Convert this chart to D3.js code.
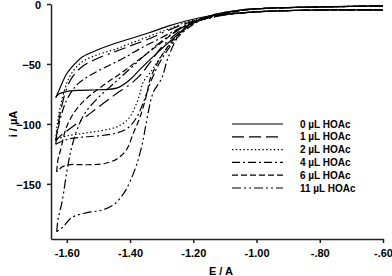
<!DOCTYPE html>
<html lang="en">
<head>
    <meta charset="UTF-8">
    <title>CV HOAc</title>
    <script src="https://d3js.org/d3.v7.min.js"></script>
    <style>
        body { margin: 0; background: #fff; }
        text { font-family: "Liberation Sans", Arial, sans-serif; font-weight: bold; fill: #000; }
        .axis path, .axis line { stroke: #222; }
        .axis text { font-size: 11px; }
        .curve { fill: none; stroke: #000; stroke-width: 1.2; }
    </style>
</head>
<body>
<script>
    const width = 392, height = 276;
    const plotLeft = 51, plotRight = 383, plotTop = 4, plotBottom = 239;

    const xTicks = [-1.60, -1.40, -1.20, -1.00, -0.80, -0.60];
    const xTickLabels = ["-1.60", "-1.40", "-1.20", "-1.00", "-.80", "-.60"];
    const yTicks = [0, -50, -100, -150];

    const series = ["0 \u00b5L HOAc", "1 \u00b5L HOAc", "2 \u00b5L HOAc", "4 \u00b5L HOAc", "6 \u00b5L HOAc", "11 \u00b5L HOAc"];
    const dashes = ["none", "12,5,12,5,12,5,2,5", "1.4,2.4", "8,3,2,3", "6,3", "9,3,2,3,2,3"];
    const widths = [1.2, 1.2, 2, 1.2, 1.2, 1.2];

    // each voltammogram: forward sweep (right to vertex) and return sweep (vertex to right), [E, i]
    const wave0 = [[-0.60,-1.5],[-0.70,-2],[-0.80,-2.5],[-0.90,-3],[-1.00,-4],[-1.05,-5],[-1.10,-7],[-1.15,-10],[-1.21,-17],[-1.26,-28],[-1.315,-41],[-1.37,-55],[-1.40,-63],[-1.44,-70],[-1.50,-71.5],[-1.56,-72],[-1.60,-73],[-1.625,-75],[-1.635,-78]];
    const ret0 = [[-1.635,-78],[-1.628,-74],[-1.615,-66],[-1.60,-58],[-1.575,-50],[-1.55,-44],[-1.50,-38],[-1.46,-34],[-1.40,-29],[-1.34,-24],[-1.28,-18.5],[-1.22,-14],[-1.18,-11.5],[-1.15,-10],[-1.10,-8.5],[-1.05,-7.5],[-1.00,-6.5],[-0.90,-5.5],[-0.80,-5],[-0.60,-5]];

    const wave1 = [[-0.60,-1.5],[-0.70,-2],[-0.80,-2.5],[-0.90,-3],[-1.00,-4],[-1.05,-5],[-1.10,-7],[-1.15,-10],[-1.20,-15],[-1.25,-24],[-1.30,-36],[-1.34,-50],[-1.37,-60],[-1.40,-67],[-1.45,-76],[-1.50,-86],[-1.55,-96],[-1.60,-106],[-1.62,-110],[-1.635,-114]];
    const ret1 = [[-1.635,-114],[-1.63,-105],[-1.62,-90],[-1.60,-70],[-1.58,-60],[-1.55,-52],[-1.50,-45],[-1.45,-40],[-1.40,-35],[-1.34,-29],[-1.28,-22],[-1.22,-16],[-1.18,-13],[-1.15,-11],[-1.10,-8.5],[-1.05,-7.5],[-1.00,-6.5],[-0.90,-5.5],[-0.80,-5],[-0.60,-5]];

    const wave2 = [[-0.60,-1.5],[-0.70,-2],[-0.80,-2.5],[-0.90,-3],[-1.00,-4],[-1.05,-5],[-1.10,-7.5],[-1.15,-11],[-1.20,-16],[-1.25,-27],[-1.30,-43],[-1.33,-55],[-1.36,-66],[-1.37,-76],[-1.40,-94],[-1.43,-101],[-1.46,-104],[-1.50,-106],[-1.55,-108],[-1.60,-110],[-1.635,-113]];
    const ret2 = [[-1.635,-113],[-1.63,-100],[-1.62,-85],[-1.60,-66],[-1.58,-56],[-1.55,-48],[-1.50,-42],[-1.45,-38],[-1.40,-33],[-1.34,-27],[-1.28,-21],[-1.22,-15],[-1.18,-12.5],[-1.15,-11],[-1.10,-8.5],[-1.05,-7.5],[-1.00,-6.5],[-0.90,-5.5],[-0.80,-5],[-0.60,-5]];

    const wave4 = [[-0.60,-1.5],[-0.70,-2],[-0.80,-2.5],[-0.90,-3],[-1.00,-4],[-1.05,-5.5],[-1.10,-8],[-1.15,-11],[-1.20,-17],[-1.25,-28],[-1.30,-46],[-1.33,-62],[-1.355,-80],[-1.38,-95],[-1.41,-104],[-1.45,-108],[-1.50,-110],[-1.55,-111],[-1.60,-113],[-1.635,-117]];
    const ret4 = [[-1.635,-117],[-1.63,-108],[-1.62,-95],[-1.60,-80],[-1.57,-68],[-1.53,-60],[-1.48,-53],[-1.42,-45],[-1.36,-36],[-1.30,-28],[-1.25,-21],[-1.20,-15],[-1.15,-11.5],[-1.10,-9],[-1.05,-7.5],[-1.00,-6.5],[-0.90,-5.5],[-0.80,-5],[-0.60,-5]];

    const wave6 = [[-0.60,-1.5],[-0.70,-2],[-0.80,-2.5],[-0.90,-3],[-1.00,-4],[-1.05,-5.5],[-1.10,-8],[-1.15,-11],[-1.20,-16],[-1.25,-26],[-1.30,-43],[-1.337,-63],[-1.346,-74],[-1.368,-94],[-1.39,-108],[-1.41,-121],[-1.44,-129],[-1.48,-133],[-1.52,-134],[-1.56,-134],[-1.59,-134],[-1.615,-136],[-1.632,-140]];
    const ret6 = [[-1.632,-140],[-1.628,-130],[-1.62,-122],[-1.60,-102],[-1.57,-88],[-1.53,-77],[-1.48,-67],[-1.42,-56],[-1.36,-44],[-1.30,-32],[-1.25,-22],[-1.20,-15],[-1.15,-11.5],[-1.10,-9],[-1.05,-7.5],[-1.00,-6.5],[-0.90,-5.5],[-0.80,-5],[-0.60,-5]];

    const wave11 = [[-0.60,-1.5],[-0.70,-2],[-0.80,-2.5],[-0.90,-3],[-1.00,-4],[-1.05,-5.5],[-1.10,-8],[-1.15,-11],[-1.20,-16],[-1.22,-19],[-1.25,-28],[-1.28,-45],[-1.30,-62],[-1.327,-74],[-1.346,-95],[-1.36,-115],[-1.378,-133],[-1.40,-148],[-1.42,-158],[-1.45,-167],[-1.49,-172],[-1.536,-174],[-1.584,-178],[-1.612,-186],[-1.632,-190]];
    const ret11 = [[-1.632,-190],[-1.628,-180],[-1.615,-165],[-1.60,-140],[-1.585,-120],[-1.565,-103],[-1.54,-90],[-1.50,-78],[-1.45,-66],[-1.40,-54],[-1.35,-42],[-1.30,-31],[-1.25,-22],[-1.20,-15.5],[-1.15,-12],[-1.10,-9],[-1.05,-7.5],[-1.00,-6.5],[-0.90,-5.5],[-0.80,-5],[-0.60,-5]];

    const curves = [[wave0, ret0], [wave1, ret1], [wave2, ret2], [wave4, ret4], [wave6, ret6], [wave11, ret11]];

    const x = d3.scaleLinear().domain([-1.65, -0.60]).range([plotLeft, plotRight]);
    const y = d3.scaleLinear().domain([-196, 0]).range([plotBottom, plotTop]);

    const svg = d3.select("body").append("svg")
            .attr("width", width).attr("height", height);

    const line = d3.line().x(d => x(d[0])).y(d => y(d[1])).curve(d3.curveCatmullRom.alpha(0.5));

    curves.forEach((c, k) => {
        c.forEach(branch => {
            svg.append("path").attr("class", "curve")
                .attr("d", line(branch))
                .attr("stroke-dasharray", dashes[k])
                .attr("stroke-width", widths[k]);
        });
    });

    const axisX = d3.axisBottom(x).tickValues(xTicks)
            .tickFormat((d, i) => xTickLabels[i]).tickSize(4).tickSizeOuter(0).tickPadding(6);
    const axisY = d3.axisLeft(y).tickValues(yTicks).tickSize(4).tickSizeOuter(0).tickPadding(6);

    svg.append("g").attr("class", "axis")
            .attr("transform", `translate(0,${plotBottom})`)
            .call(axisX)
            .call(g => g.selectAll("path,line").attr("stroke-width", 1.5));
    svg.append("g").attr("class", "axis")
            .attr("transform", `translate(${plotLeft},0)`)
            .call(axisY)
            .call(g => g.selectAll("path,line").attr("stroke-width", 1.5))
            .call(g => g.selectAll("text").attr("dy", "0.45em"));
    svg.selectAll(".axis text").attr("fill", "#000").style("font-size", "11px");

    svg.append("text").attr("x", (plotLeft + plotRight) / 2 + 4).attr("y", 275)
            .attr("text-anchor", "middle").style("font-size", "11px").text("E / A");
    svg.append("text").attr("transform", `translate(17,124) rotate(-90)`)
            .attr("text-anchor", "middle").style("font-size", "11px").text("i / \u00b5A");

    // legend
    const legend = svg.append("g");
    series.forEach((s, k) => {
        const ly = 124 + k * 12.8;
        legend.append("line").attr("class", "curve")
            .attr("x1", 232).attr("x2", 283).attr("y1", ly).attr("y2", ly)
            .attr("stroke-dasharray", dashes[k]).attr("stroke-width", widths[k]);
        legend.append("text").attr("x", 300).attr("y", ly + 3.5)
            .style("font-size", "10px").text(s);
    });
</script>
</body>
</html>
